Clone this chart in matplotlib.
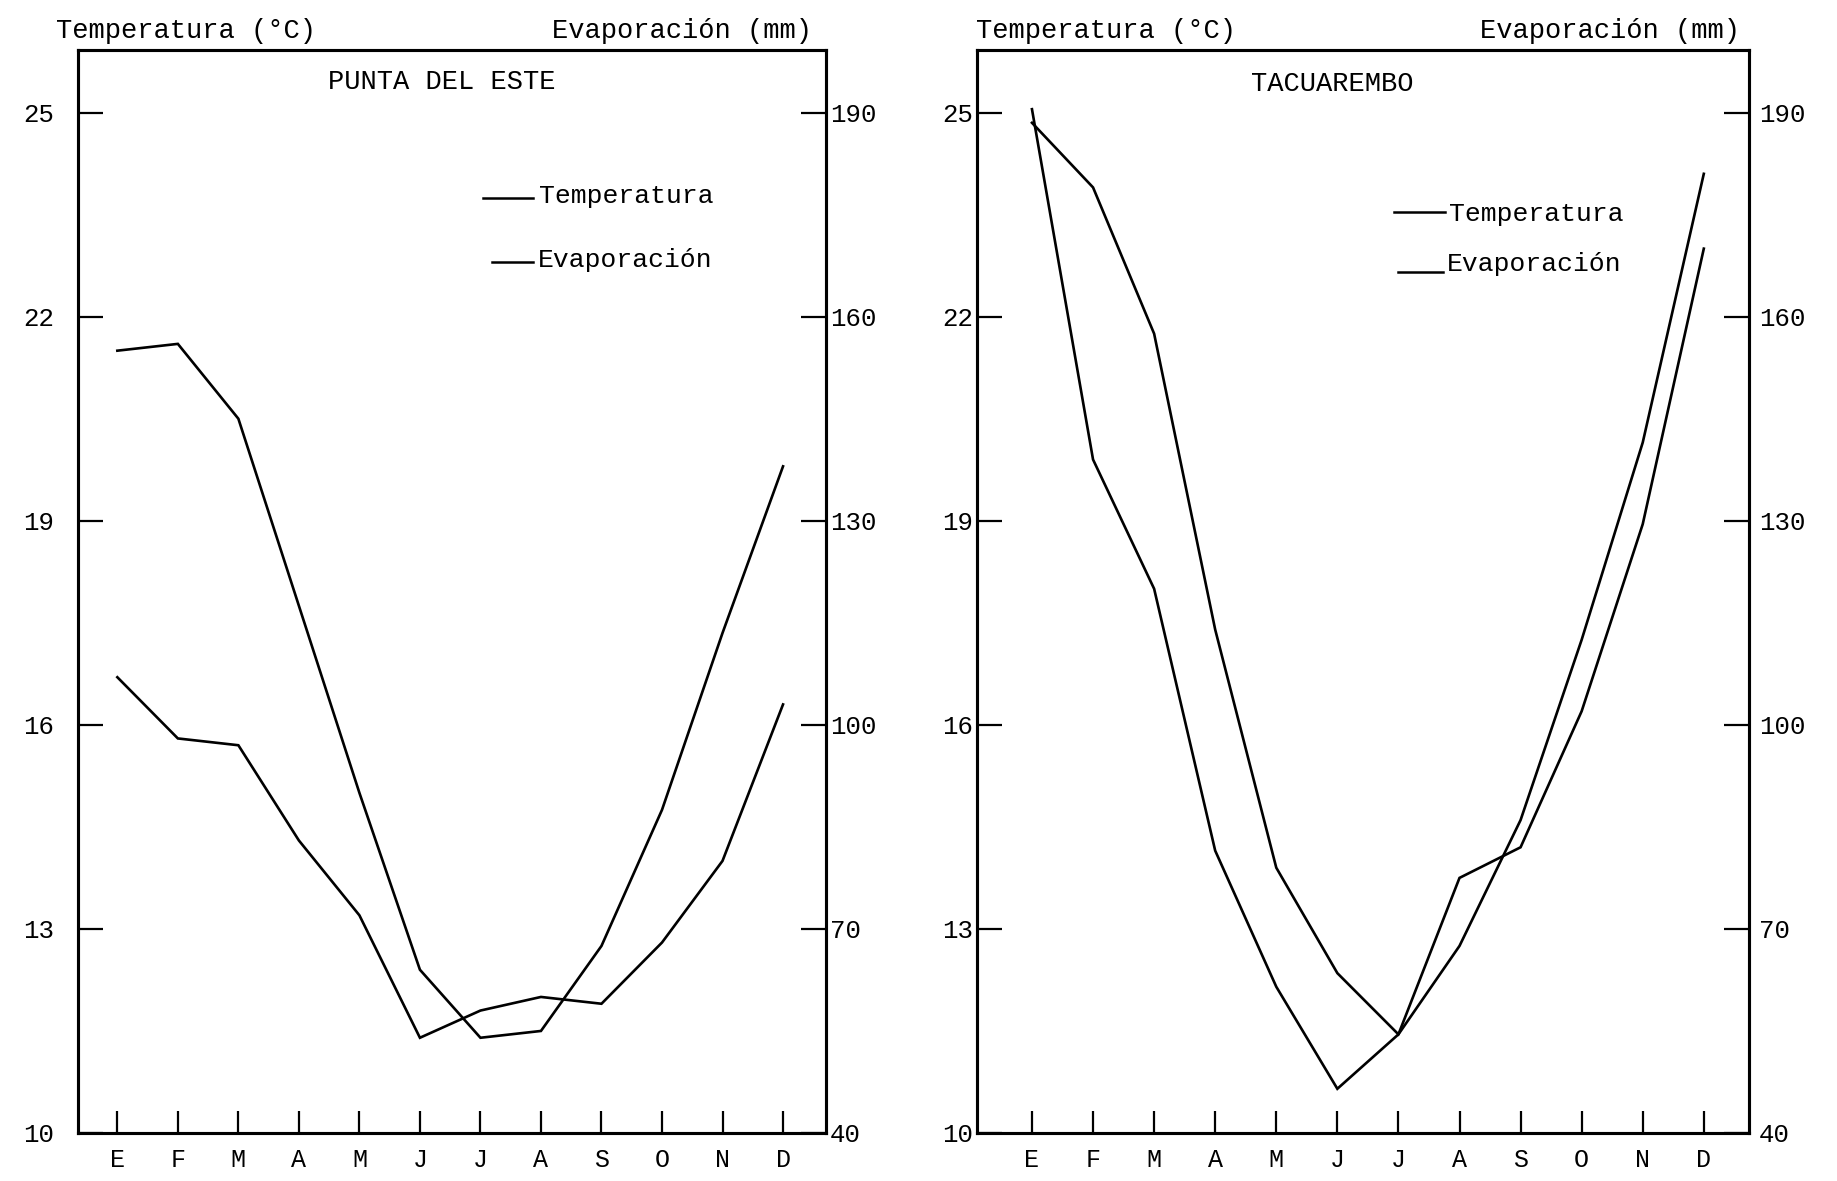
import matplotlib
matplotlib.use("Agg")
import matplotlib.pyplot as plt
from matplotlib.lines import Line2D

# ---------------- data ----------------
months = ["E", "F", "M", "A", "M", "J", "J", "A", "S", "O", "N", "D"]

pde_temp = [21.5, 21.6, 20.5, 17.75, 15.0, 12.4, 11.4, 11.5, 12.75, 14.75, 17.35, 19.8]
pde_evap = [107, 98, 97, 83, 72, 54, 58, 60, 59, 68, 80, 103]

tac_temp = [24.85, 23.9, 21.75, 17.4, 13.9, 12.35, 11.45, 12.75, 14.6, 17.25, 20.15, 24.1]
tac_evap = [190.5, 139, 120, 81.5, 61.5, 46.5, 54.5, 77.5, 82, 102, 129.5, 170]

temp_ticks = [10, 13, 16, 19, 22, 25]
evap_ticks = [40, 70, 100, 130, 160, 190]

titles = ["PUNTA DEL ESTE", "TACUAREMBO"]
temp_label = "Temperatura (°C)"
evap_label = "Evaporación (mm)"
leg_temp = "Temperatura"
leg_evap = "Evaporación"

# ---------------- style ----------------
FONT = ["Liberation Mono", "DejaVu Sans Mono"]
plt.rcParams["font.family"] = FONT
W, H = 1837, 1181
fig = plt.figure(figsize=(W / 100, H / 100), dpi=100)
fig.patch.set_facecolor("white")


def fx(px):
    return px / W


def fy(py):
    return 1 - py / H


def panel(left, right, xlim, temp, evap, title, title_xy, head_l, head_r,
          ytick_pad_l, ytick_pad_r):
    top_px, bot_px = 50, 1133
    ax = fig.add_axes([fx(left), fy(bot_px), fx(right - left), fy(top_px) - fy(bot_px)])
    ytop = 25.92
    x = list(range(len(months)))
    ax.plot(x, temp, color="black", lw=1.9, solid_joinstyle="miter")
    ax.set_xlim(*xlim)
    ax.set_ylim(10, ytop)
    ax.set_xticks(x)
    ax.set_xticklabels(months, fontsize=18)
    ax.set_yticks(temp_ticks)
    ax.set_yticklabels([str(t) for t in temp_ticks], fontsize=18.5)
    ax.tick_params(axis="x", direction="in", length=16, width=1.6, pad=11,
                   top=False, colors="black")
    ax.tick_params(axis="y", direction="in", length=18, width=1.6,
                   pad=ytick_pad_l, right=False)
    for s in ax.spines.values():
        s.set_linewidth(2.2)
    ax2 = ax.twinx()
    ax2.plot(x, evap, color="black", lw=1.9, solid_joinstyle="miter")
    ax2.set_ylim(40, 40 + 10 * (ytop - 10))
    ax2.set_yticks(evap_ticks)
    ax2.set_yticklabels([str(e) for e in evap_ticks], fontsize=18.5)
    ax2.tick_params(axis="y", direction="in", length=18, width=1.6, pad=ytick_pad_r)
    for s in ax2.spines.values():
        s.set_linewidth(2.2)

    fig.text(fx(title_xy[0]), fy(title_xy[1]), title, ha="center", va="center",
             fontsize=19.5)
    fig.text(fx(head_l), fy(31), temp_label, ha="left", va="center", fontsize=19.5)
    fig.text(fx(head_r), fy(31), evap_label, ha="right", va="center", fontsize=19.5)
    return ax


panel(78, 826, (-0.65, 11.71), pde_temp, pde_evap, titles[0], (442, 82), 56, 812, 17, 3)
panel(977, 1749, (-0.90, 11.74), tac_temp, tac_evap, titles[1], (1332, 84), 976, 1740, 3, 7)

# ---------------- legends (manual, typewriter style) ----------------
legends = [
    # (line x0, x1, y) , (text x, y)
    ((483, 533, 198), (539, 196), leg_temp),
    ((492, 533, 262), (538, 260), leg_evap),
    ((1394, 1445, 212), (1449, 214), leg_temp),
    ((1398, 1443, 272), (1447, 264), leg_evap),
]
for (x0, x1, yl), (tx, ty), lab in legends:
    fig.add_artist(Line2D([fx(x0), fx(x1)], [fy(yl), fy(yl)], color="black",
                          lw=1.8, transform=fig.transFigure))
    fig.text(fx(tx), fy(ty), lab, ha="left", va="center", fontsize=19)

fig.savefig("out.png", dpi=100, facecolor="white")
